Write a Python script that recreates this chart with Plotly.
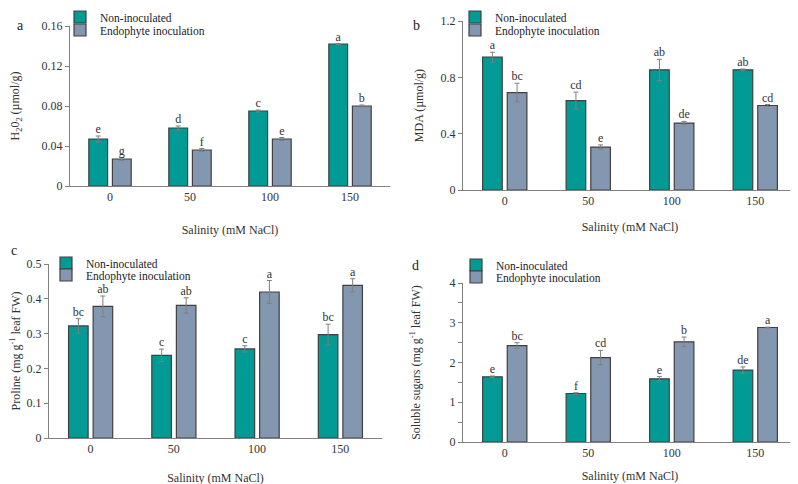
import plotly.graph_objects as go

categories = ["0", "50", "100", "150"]
series_names = ["Non-inoculated", "Endophyte inoculation"]

# Panel a: H2O2
h2o2_non = [0.047, 0.058, 0.075, 0.142]
h2o2_non_err = [0.003, 0.002, 0.001, 0.0005]
h2o2_endo = [0.027, 0.036, 0.047, 0.080]
h2o2_endo_err = [0.0015, 0.0015, 0.0015, 0.001]
h2o2_non_letters = ["e", "d", "c", "a"]
h2o2_endo_letters = ["g", "f", "e", "b"]

# Panel b: MDA
mda_non = [0.943, 0.635, 0.853, 0.853]
mda_non_err = [0.035, 0.06, 0.075, 0.006]
mda_endo = [0.692, 0.305, 0.475, 0.600]
mda_endo_err = [0.066, 0.015, 0.012, 0.007]
mda_non_letters = ["a", "cd", "ab", "ab"]
mda_endo_letters = ["bc", "e", "de", "cd"]

# Panel c: Proline
pro_non = [0.322, 0.2375, 0.256, 0.297]
pro_non_err = [0.021, 0.018, 0.009, 0.03]
pro_endo = [0.378, 0.381, 0.4195, 0.4387]
pro_endo_err = [0.03, 0.022, 0.033, 0.019]
pro_non_letters = ["bc", "c", "c", "bc"]
pro_endo_letters = ["ab", "ab", "a", "a"]

# Panel d: Soluble sugars
sug_non = [1.64, 1.22, 1.59, 1.81]
sug_non_err = [0.02, 0.02, 0.055, 0.08]
sug_endo = [2.427, 2.125, 2.52, 2.88]
sug_endo_err = [0.07, 0.18, 0.12, 0.01]
sug_non_letters = ["e", "f", "e", "de"]
sug_endo_letters = ["bc", "cd", "b", "a"]

FONT = "Liberation Serif"
TEAL = "#019a94"
GRAY = "#8497b0"
EDGE = "#404040"
BAR_W = 0.235
OFFS = [-0.265, 0.03]
W, H = 798, 484
SHIFT = 8  # page body margin


def px_x(x):
    return (x - SHIFT) / W


def px_y(y):
    return 1 - (y - SHIFT) / H


panels = [
    dict(ax="", non=h2o2_non, ne=h2o2_non_err, endo=h2o2_endo, ee=h2o2_endo_err,
         nl=h2o2_non_letters, el=h2o2_endo_letters),
    dict(ax="2", non=mda_non, ne=mda_non_err, endo=mda_endo, ee=mda_endo_err,
         nl=mda_non_letters, el=mda_endo_letters),
    dict(ax="3", non=pro_non, ne=pro_non_err, endo=pro_endo, ee=pro_endo_err,
         nl=pro_non_letters, el=pro_endo_letters),
    dict(ax="4", non=sug_non, ne=sug_non_err, endo=sug_endo, ee=sug_endo_err,
         nl=sug_non_letters, el=sug_endo_letters),
]

xs = list(range(len(categories)))
fig = go.Figure()
for pi, p in enumerate(panels):
    for k, (vals, errs, letters, col) in enumerate([
        (p["non"], p["ne"], p["nl"], TEAL),
        (p["endo"], p["ee"], p["el"], GRAY),
    ]):
        leg_idx = pi * 2 + k
        leg_name = "legend" if leg_idx == 0 else "legend" + str(leg_idx + 1)
        fig.add_trace(go.Bar(
            x=xs, y=vals, width=BAR_W, offset=OFFS[k],
            name=series_names[k], legend=leg_name,
            marker=dict(color=col, line=dict(color=EDGE, width=1.2)),
            error_y=dict(type="data", array=errs, color="#7f7f7f", thickness=1, width=2.5),
            xaxis="x" + p["ax"], yaxis="y" + p["ax"],
        ))
        fig.add_trace(go.Scatter(
            x=[x + OFFS[k] + BAR_W / 2 for x in xs],
            y=[v + e for v, e in zip(vals, errs)],
            mode="text", text=letters, textposition="top center",
            textfont=dict(family=FONT, size=12, color="#333333"),
            showlegend=False, hoverinfo="skip", cliponaxis=False,
            xaxis="x" + p["ax"], yaxis="y" + p["ax"],
        ))

# plot-area boxes in reference pixels: (left, right, top, bottom)
boxes = [(70, 390, 26, 186), (463, 797, 21, 190), (49, 382, 264, 438), (463, 797, 283, 442)]
yranges = [[0, 0.16], [0, 1.2], [0, 0.5], [0, 4]]
ytickvals = [[0, 0.04, 0.08, 0.12, 0.16], [0, 0.4, 0.8, 1.2],
             [0, 0.1, 0.2, 0.3, 0.4, 0.5], [0, 1, 2, 3, 4]]
yticktext = [["0", "0.04", "0.08", "0.12", "0.16"], ["0", "0.4", "0.8", "1.2"],
             ["0", "0.1", "0.2", "0.3", "0.4", "0.5"], ["0", "1", "2", "3", "4"]]
ytitles = ["H<sub>2</sub>0<sub>2</sub> (µmol/g)", "MDA (µmol/g)",
           "Proline (mg g<sup>-1</sup> leaf FW)", "Soluble sugars (mg g<sup>-1</sup> leaf FW)"]
ystand = [22, 14, 20, 26]
xstand = [22, 15, 18, 12]

layout = dict(
    width=W, height=H, margin=dict(l=0, r=0, t=0, b=0, autoexpand=False),
    paper_bgcolor="white", plot_bgcolor="white",
    font=dict(family=FONT, size=12, color="#333333"),
    barmode="overlay",
)
for i in range(4):
    s = "" if i == 0 else str(i + 1)
    l, r, t, b = boxes[i]
    layout["xaxis" + s] = dict(
        domain=[px_x(l), min(px_x(r), 1)], anchor="y" + s, range=[-0.5, 3.5], automargin=False,
        tickvals=xs, ticktext=categories, showline=True, linecolor="#808080", linewidth=1,
        ticks="", showgrid=False, zeroline=False,
        title=dict(text="Salinity (mM NaCl)", standoff=xstand[i], font=dict(family=FONT, size=12)),
        tickfont=dict(family=FONT, size=12),
    )
    yd = dict(
        domain=[px_y(b), px_y(t)], anchor="x" + s, range=yranges[i], automargin=False,
        tickvals=ytickvals[i], ticktext=yticktext[i], showline=True, linecolor="#808080", linewidth=1,
        ticks="outside", ticklen=4, tickcolor="#808080", showgrid=False, zeroline=False,
        title=dict(text=ytitles[i], standoff=ystand[i], font=dict(family=FONT, size=12)),
        tickfont=dict(family=FONT, size=12),
    )
    if i == 3:
        yd["minor"] = dict(dtick=0.5, ticks="outside", ticklen=4, tickcolor="#808080")
    layout["yaxis" + s] = yd

# one legend per entry: (left x, row centre y) in reference pixels
legpos = [(60, 17), (60, 30), (455, 17), (455, 30), (46, 263), (46, 275), (456, 265), (456, 277)]
for i, (lx, ly) in enumerate(legpos):
    name = "legend" if i == 0 else "legend" + str(i + 1)
    layout[name] = dict(x=px_x(lx), y=px_y(ly), xanchor="left", yanchor="middle",
                        bgcolor="rgba(0,0,0,0)",
                        font=dict(family=FONT, size=11.5, color="#222222"),
                        itemwidth=30, tracegroupgap=0)

fig.update_layout(**layout)

for lbl, x, y in [("a", 15, 16), ("b", 416, 16), ("c", 9, 250), ("d", 415, 265)]:
    fig.add_annotation(text=lbl, x=px_x(x), y=px_y(y), xref="paper", yref="paper",
                       showarrow=False, font=dict(family=FONT, size=14, color="#222222"))

fig.write_html("out.html")
